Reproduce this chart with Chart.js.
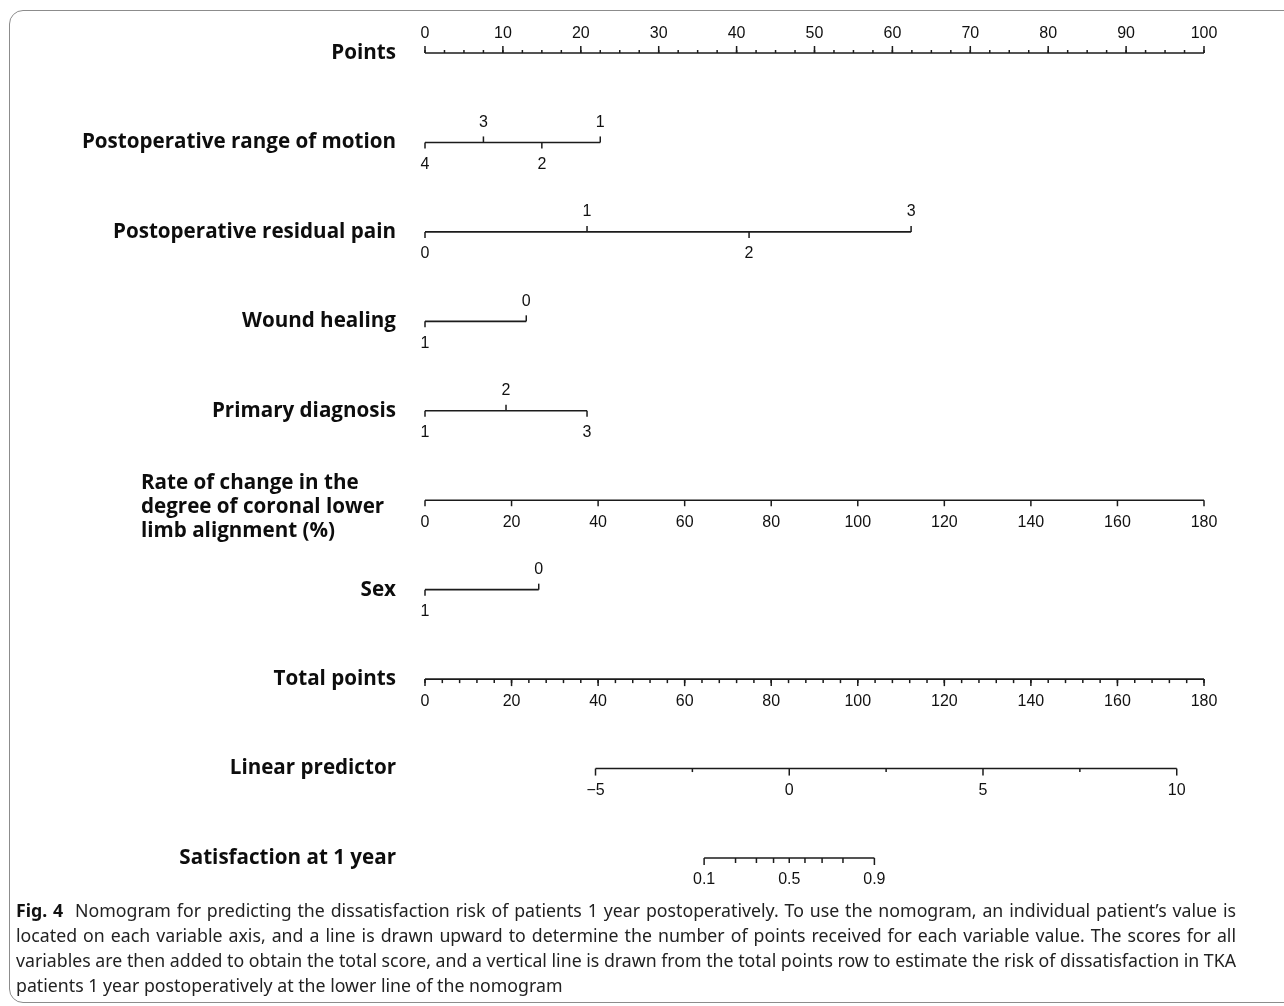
<!DOCTYPE html>
<html>
<head>
<meta charset="utf-8">
<script src="https://cdn.jsdelivr.net/npm/chart.js@4.4.1/dist/chart.umd.min.js"></script>
<style>
  html, body { margin: 0; padding: 0; background: #fff; width: 1284px; height: 1006px; overflow: hidden; }
  #frame { position: absolute; left: 9px; top: 10px; width: 1400px; height: 993px; border: 1.5px solid #8c8c8c; border-radius: 14px; box-sizing: border-box; }
  #wrap { position: absolute; left: 0; top: 0; width: 1284px; height: 900px; }
  #caption { position: absolute; left: 16px; top: 897px; width: 1220px; font-family: "Noto Sans", "Open Sans", sans-serif; font-size: 18.5px; line-height: 25px; color: #222; transform-origin: 0 0; }
  #caption div { white-space: nowrap; }
  #caption .j { text-align: justify; text-align-last: justify; }
  #caption b { font-weight: 700; color: #111; }
  #caption span { display: inline-block; }
  #caption .j span { display: inline; }
</style>
</head>
<body>
<div id="frame"></div>
<div id="wrap"><canvas id="nomo" width="1284" height="900"></canvas></div>
<div id="caption">
  <div class="j"><b>Fig. 4</b>&nbsp; Nomogram for predicting the dissatisfaction risk of patients 1 year postoperatively. To use the nomogram, an individual patient’s value is</div>
  <div class="j">located on each variable axis, and a line is drawn upward to determine the number of points received for each variable value. The scores for all</div>
  <div class="j">variables are then added to obtain the total score, and a vertical line is drawn from the total points row to estimate the risk of dissatisfaction in TKA</div>
  <div>patients 1 year postoperatively at the lower line of the nomogram</div>
</div>
<script>
// ================================
// Nomogram data
// ================================

const rowLabels = [
    "Points",
    "Postoperative range of motion",
    "Postoperative residual pain",
    "Wound healing",
    "Primary diagnosis",
    ["Rate of change in the", "degree of coronal lower", "limb alignment (%)"],
    "Sex",
    "Total points",
    "Linear predictor",
    "Satisfaction at 1 year"
]

// points axis
const pointsLabels = [0, 10, 20, 30, 40, 50, 60, 70, 80, 90, 100]
const pointsMinorStep = 2.5

// categorical predictors: level -> points
const romLevels = ["4", "3", "2", "1"]
const romPoints = [0, 7.5, 15.0, 22.5]

const painLevels = ["0", "1", "2", "3"]
const painPoints = [0, 20.8, 41.6, 62.4]

const woundLevels = ["1", "0"]
const woundPoints = [0, 13.0]

const diagLevels = ["1", "2", "3"]
const diagPoints = [0, 10.4, 20.8]

const sexLevels = ["1", "0"]
const sexPoints = [0, 14.6]

// continuous predictor (0..180 % spans 0..100 points)
const rateTicks = [0, 20, 40, 60, 80, 100, 120, 140, 160, 180]

// total points
const totalLabels = [0, 20, 40, 60, 80, 100, 120, 140, 160, 180]
const totalMinorStep = 4

// linear predictor, and where its ends sit on the total points axis
const lpLabels = [-5, 0, 5, 10]
const lpMinor = [-2.5, 2.5, 7.5]
const lpAnchorTotal = [39.4, 173.7]

// probability of satisfaction
const satTicks = [0.1, 0.2, 0.3, 0.4, 0.5, 0.6, 0.7, 0.8, 0.9]
const satLabels = [0.1, 0.5, 0.9]

// ================================
// Scale helpers
// ================================

const lpPerTotal = (lpLabels[lpLabels.length - 1] - lpLabels[0]) / (lpAnchorTotal[1] - lpAnchorTotal[0])
const lpMin = lpLabels[0] - lpAnchorTotal[0] * lpPerTotal
const lpMax = lpMin + 180 * lpPerTotal

function logit(p) {
    return Math.log(p / (1 - p))
}

const inkColor = "#1b1b1b"
const tickFont = "16px 'Liberation Sans', Arial, sans-serif"
const labelFont = "bold 20.6px 'Open Sans', 'Noto Sans', sans-serif"

const catRows = [
    { row: 1, levels: romLevels, points: romPoints },
    { row: 2, levels: painLevels, points: painPoints },
    { row: 3, levels: woundLevels, points: woundPoints },
    { row: 4, levels: diagLevels, points: diagPoints },
    { row: 6, levels: sexLevels, points: sexPoints }
]

// one line dataset per axis
function axisLine(row, axisId, from, to) {
    return {
        data: [{ x: from, y: row }, { x: to, y: row }],
        xAxisID: axisId,
        showLine: true,
        borderColor: inkColor,
        borderWidth: 1.6,
        pointRadius: 0,
        clip: false
    }
}

const datasets = [
    axisLine(0, "x", pointsLabels[0], pointsLabels[pointsLabels.length - 1]),
    ...catRows.map(r => axisLine(r.row, "x", r.points[0], r.points[r.points.length - 1])),
    axisLine(5, "xTot", rateTicks[0], rateTicks[rateTicks.length - 1]),
    axisLine(7, "xTot", totalLabels[0], totalLabels[totalLabels.length - 1]),
    axisLine(8, "xLP", lpLabels[0], lpLabels[lpLabels.length - 1]),
    axisLine(9, "xLP", logit(satTicks[0]), logit(satTicks[satTicks.length - 1]))
]

// ================================
// Ticks, tick labels and row names
// ================================

function drawTick(ctx, x, y, dir, len) {
    ctx.beginPath()
    ctx.moveTo(x, y)
    ctx.lineTo(x, y + dir * len)
    ctx.stroke()
}

function drawText(ctx, text, x, y) {
    ctx.fillText(text, x, y)
}

const nomogramPlugin = {
    id: "nomogram",
    afterDatasetsDraw(chart) {
        const ctx = chart.ctx
        const yS = chart.scales.y
        const xS = chart.scales.x
        const tS = chart.scales.xTot
        const lS = chart.scales.xLP

        ctx.save()
        ctx.strokeStyle = inkColor
        ctx.lineWidth = 1.5
        ctx.fillStyle = "#111"
        ctx.font = tickFont
        ctx.textAlign = "center"
        ctx.textBaseline = "middle"

        // points row: ticks up, labels above
        let y = yS.getPixelForValue(0)
        for (let v = 0; v <= 100; v += pointsMinorStep) {
            drawTick(ctx, xS.getPixelForValue(v), y, -1, 3)
        }
        pointsLabels.forEach(v => {
            let px = xS.getPixelForValue(v)
            drawTick(ctx, px, y, -1, 7)
            drawText(ctx, String(v), px, y - 19)
        })

        // categorical rows: alternate below / above
        catRows.forEach(r => {
            let yy = yS.getPixelForValue(r.row)
            r.points.forEach((p, i) => {
                let px = xS.getPixelForValue(p)
                let dir = i % 2 === 0 ? 1 : -1
                drawTick(ctx, px, yy, dir, 6)
                drawText(ctx, r.levels[i], px, yy + dir * (dir > 0 ? 22 : 20))
            })
        })

        // rate of change row
        y = yS.getPixelForValue(5)
        rateTicks.forEach(v => {
            let px = tS.getPixelForValue(v)
            drawTick(ctx, px, y, 1, 6)
            drawText(ctx, String(v), px, y + 22)
        })

        // total points row
        y = yS.getPixelForValue(7)
        for (let v = 0; v <= 180; v += totalMinorStep) {
            drawTick(ctx, tS.getPixelForValue(v), y, 1, 4)
        }
        totalLabels.forEach(v => {
            let px = tS.getPixelForValue(v)
            drawTick(ctx, px, y, 1, 7)
            drawText(ctx, String(v), px, y + 22)
        })

        // linear predictor row
        y = yS.getPixelForValue(8)
        lpMinor.forEach(v => drawTick(ctx, lS.getPixelForValue(v), y, 1, 3.5))
        lpLabels.forEach(v => {
            let px = lS.getPixelForValue(v)
            drawTick(ctx, px, y, 1, 7)
            drawText(ctx, v < 0 ? "\u2212" + Math.abs(v) : String(v), px, y + 22)
        })

        // satisfaction row
        y = yS.getPixelForValue(9)
        satTicks.forEach(p => {
            let big = p === satTicks[0] || p === satTicks[satTicks.length - 1]
            drawTick(ctx, lS.getPixelForValue(logit(p)), y, 1, big ? 7 : 5)
        })
        satLabels.forEach(p => drawText(ctx, String(p), lS.getPixelForValue(logit(p)), y + 22))

        // row names
        ctx.font = labelFont
        ctx.fillStyle = "#0d0d0d"
        rowLabels.forEach((name, i) => {
            let yy = yS.getPixelForValue(i)
            if (Array.isArray(name)) {
                ctx.textAlign = "left"
                name.forEach((line, k) => drawText(ctx, line, 141, yy - 17 + k * 24))
            } else {
                ctx.textAlign = "right"
                drawText(ctx, name, xS.left - 29, yy)
            }
        })

        ctx.restore()
    }
}

// ================================
// Chart
// ================================

new Chart(document.getElementById("nomo"), {
    type: "scatter",
    data: { datasets: datasets },
    options: {
        responsive: false,
        animation: false,
        layout: { padding: { left: 425, right: 80, top: 53, bottom: 42 } },
        plugins: {
            legend: { display: false },
            tooltip: { enabled: false }
        },
        scales: {
            x: { type: "linear", min: 0, max: 100, display: false },
            xTot: { type: "linear", min: 0, max: 180, display: false },
            xLP: { type: "linear", min: lpMin, max: lpMax, display: false },
            y: { type: "linear", min: 0, max: 9, reverse: true, display: false }
        }
    },
    plugins: [nomogramPlugin]
})

// squeeze the caption horizontally so the widest line fits the frame
const cap = document.getElementById("caption")
const lines = Array.from(cap.children)
let widest = 0
lines.forEach(div => {
    const probe = document.createElement("span")
    probe.style.display = "inline-block"
    probe.style.whiteSpace = "nowrap"
    probe.innerHTML = div.innerHTML
    document.body.appendChild(probe)
    probe.style.font = getComputedStyle(cap).font
    widest = Math.max(widest, probe.getBoundingClientRect().width)
    probe.remove()
})
const squeeze = Math.min(1, 1220 / widest)
cap.style.width = (1220 / squeeze) + "px"
cap.style.transform = "scaleX(" + squeeze + ")"
</script>
</body>
</html>
